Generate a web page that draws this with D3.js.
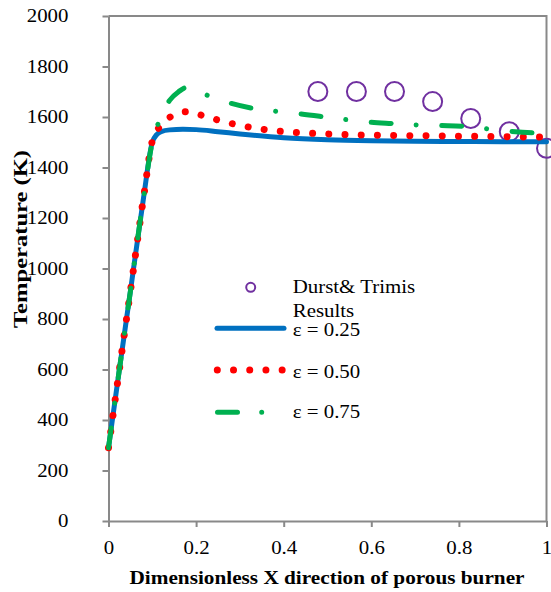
<!DOCTYPE html>
<html>
<head>
<meta charset="utf-8">
<script src="https://cdn.jsdelivr.net/npm/d3@7"></script>
<style>
  body { margin: 0; background: #fff; }
  text { font-family: "Liberation Serif", "Times New Roman", serif; fill: #000; }
</style>
</head>
<body>
<div class="viz1"></div>
<script>
// data
var yTicks = [0, 200, 400, 600, 800, 1000, 1200, 1400, 1600, 1800, 2000];
var xTicks = [0, 0.2, 0.4, 0.6, 0.8, 1];

var durstX = [0.478, 0.566, 0.653, 0.74, 0.827, 0.915, 1.0];
var durstT = [1701, 1701, 1701, 1661, 1594, 1542, 1476];

var e25X = [0, 0.02, 0.05, 0.08, 0.1, 0.11, 0.12, 0.14, 0.17, 0.2, 0.25, 0.3, 0.4, 0.5, 0.6, 0.7, 0.8, 0.9, 1.0];
var e25T = [290, 540, 910, 1280, 1500, 1530, 1542, 1549, 1551, 1550, 1542, 1533, 1518, 1510, 1506, 1504, 1503, 1502, 1502];

var e50X = [0, 0.02, 0.05, 0.08, 0.1, 0.12, 0.15, 0.18, 0.22, 0.26, 0.3, 0.35, 0.4, 0.5, 0.6, 0.7, 0.8, 0.9, 1.0];
var e50T = [290, 540, 910, 1280, 1505, 1568, 1608, 1621, 1603, 1583, 1567, 1552, 1542, 1533, 1528, 1526, 1524, 1522, 1520];

var e75X = [0, 0.02, 0.05, 0.08, 0.1, 0.114, 0.14, 0.16, 0.18, 0.2, 0.23, 0.28, 0.33, 0.39, 0.44, 0.5, 0.55, 0.6, 0.65, 0.71, 0.76, 0.82, 0.87, 0.92, 0.97, 1.0];
var e75T = [290, 540, 910, 1280, 1500, 1577, 1667, 1700, 1718, 1705, 1683, 1654, 1634, 1621, 1612, 1599, 1588, 1579, 1574, 1568, 1566, 1562, 1552, 1543, 1537, 1535];

var legendLabels = ["Durst& Trimis", "Results", "\u03b5 = 0.25", "\u03b5 = 0.50", "\u03b5 = 0.75"];

var w = 551;
var h = 592;
var padL = 108.5, padR = 546.5, padT = 16, padB = 521;
var axisColor = "#898989";

var xScale = d3.scaleLinear().domain([0, 1]).range([padL, padR]);
var yScale = d3.scaleLinear().domain([0, 2000]).range([padB, padT]);

var svg = d3.select(".viz1")
        .append("svg")
        .attr("width", w)
        .attr("height", h);

// frame (top + right)
svg.append("path")
    .attr("d", "M" + padL + "," + padT + "H" + padR + "V" + padB)
    .attr("fill", "none")
    .attr("stroke", axisColor)
    .attr("stroke-width", 2);

var yaxis = d3.axisLeft(yScale).tickValues(yTicks).tickSize(6).tickSizeOuter(0).tickFormat(d3.format("d"));
var xaxis = d3.axisBottom(xScale).tickValues(xTicks).tickSize(6).tickSizeOuter(0).tickFormat(function(d) { return d; });

var gy = svg.append("g")
    .attr("transform", "translate(" + padL + ",0)")
    .call(yaxis);
var gx = svg.append("g")
    .attr("transform", "translate(0," + padB + ")")
    .call(xaxis);

[gx, gy].forEach(function(g) {
    g.selectAll("path, line").attr("stroke", axisColor).attr("stroke-width", 2);
    g.selectAll("text")
        .attr("font-family", "Liberation Serif")
        .attr("font-size", "18.5px")
        .attr("fill", "#000");
});
gy.selectAll("text")
    .attr("x", 0)
    .attr("transform", "translate(-40,0) scale(1.13,1)");
gx.selectAll("text")
    .attr("y", 0)
    .attr("dy", 0)
    .attr("transform", "translate(0,33) scale(1.13,1)");

// axis titles
svg.append("text")
    .attr("text-anchor", "middle")
    .attr("font-weight", "bold")
    .attr("font-size", "19.5px")
    .attr("transform", "translate(327,584) scale(1.09,1)")
    .text("Dimensionless X direction of porous burner");

svg.append("text")
    .attr("text-anchor", "middle")
    .attr("font-weight", "bold")
    .attr("font-size", "19.5px")
    .attr("transform", "translate(26.5,239) rotate(-90) scale(1.26,1)")
    .text("Temperature (K)");

// series
function series(xs, ts) {
    return xs.map(function(x, i) { return [x, ts[i]]; });
}
var line = d3.line()
    .x(function(d) { return xScale(d[0]); })
    .y(function(d) { return yScale(d[1]); })
    .curve(d3.curveMonotoneX);

svg.selectAll("circle.durst")
    .data(series(durstX, durstT))
    .enter()
    .append("circle")
    .attr("class", "durst")
    .attr("cx", function(d) { return xScale(d[0]); })
    .attr("cy", function(d) { return yScale(d[1]); })
    .attr("r", 9.5)
    .attr("fill", "none")
    .attr("stroke", "#7030A0")
    .attr("stroke-width", 2);

svg.append("path")
    .datum(series(e25X, e25T))
    .attr("d", line)
    .attr("fill", "none")
    .attr("stroke", "#0070C0")
    .attr("stroke-width", 5)
    .attr("stroke-linecap", "round")
    .attr("stroke-linejoin", "round");

svg.append("path")
    .datum(series(e50X, e50T))
    .attr("d", line)
    .attr("fill", "none")
    .attr("stroke", "#FF0000")
    .attr("stroke-width", 7)
    .attr("stroke-linecap", "round")
    .attr("stroke-dasharray", "0.01,16.2");

svg.append("path")
    .datum(series(e75X, e75T))
    .attr("d", line)
    .attr("fill", "none")
    .attr("stroke", "#00B050")
    .attr("stroke-width", 5)
    .attr("stroke-linecap", "round")
    .attr("stroke-dasharray", "20,25,0.01,25.6");

// legend
svg.append("circle")
    .attr("cx", 250.7)
    .attr("cy", 287.3)
    .attr("r", 4.5)
    .attr("fill", "none")
    .attr("stroke", "#7030A0")
    .attr("stroke-width", 2);

svg.append("line")
    .attr("x1", 217).attr("x2", 284).attr("y1", 328.3).attr("y2", 328.3)
    .attr("stroke", "#0070C0").attr("stroke-width", 5).attr("stroke-linecap", "round");
svg.append("line")
    .attr("x1", 217.3).attr("x2", 283).attr("y1", 370).attr("y2", 370)
    .attr("stroke", "#FF0000").attr("stroke-width", 7).attr("stroke-linecap", "round")
    .attr("stroke-dasharray", "0.01,16.2");
svg.append("line")
    .attr("x1", 217.5).attr("x2", 262).attr("y1", 412.3).attr("y2", 412.3)
    .attr("stroke", "#00B050").attr("stroke-width", 5).attr("stroke-linecap", "round")
    .attr("stroke-dasharray", "20,24.2,0.01,30");

var legendY = [293.3, 317.3, 335.7, 377.7, 418.3];
svg.selectAll("text.legend")
    .data(legendLabels)
    .enter()
    .append("text")
    .attr("class", "legend")
    .attr("font-size", "18.5px")
    .attr("transform", function(d, i) {
        return "translate(292.7," + legendY[i] + ") scale(1.13,1)";
    })
    .text(function(d) { return d; });
</script>
</body>
</html>
